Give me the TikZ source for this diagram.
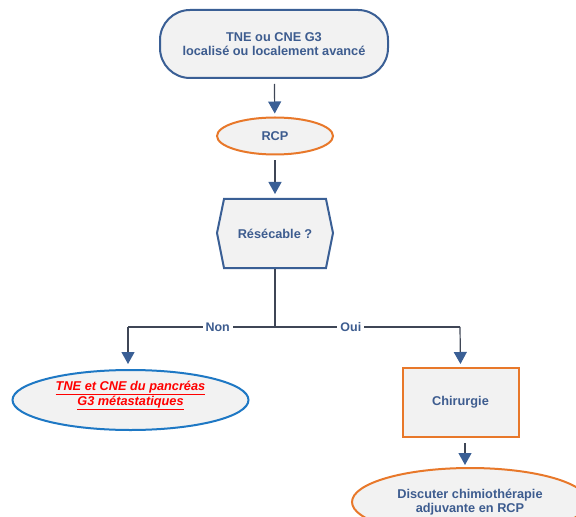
\documentclass[tikz,border=0pt]{standalone}
\usepackage{fontspec}
\setmainfont{Liberation Sans}
\usetikzlibrary{shapes.geometric,arrows.meta,calc}
\definecolor{bl}{HTML}{3A5F95}
\definecolor{tx}{HTML}{3D5C8F}
\definecolor{orr}{HTML}{E8782A}
\definecolor{lb}{HTML}{1E78C4}
\definecolor{fl}{HTML}{F2F2F2}
\definecolor{ln}{HTML}{3F4656}
\begin{document}
\begin{tikzpicture}[x=1bp,y=-1bp,
  box/.style={font=\fontsize{12.8}{14}\selectfont\bfseries, text=tx, align=center, fill=fl, line width=2bp, inner sep=0pt},
  lab/.style={font=\fontsize{12.5}{14}\selectfont\bfseries, text=tx, fill=white, inner sep=3bp},
  conn/.style={draw=ln, line width=1.2bp},
  arr/.style={conn, -{Triangle[color=bl,fill=bl,length=12bp,width=13bp]}}]
\useasboundingbox (0,0) rectangle (576,517);
\clip (0,0) rectangle (576,517);
\node[box, draw=bl, rounded corners=30bp, minimum width=228bp, minimum height=68bp] (top) at (274,44) {TNE ou CNE G3\\localisé ou localement avancé};
\node[box, draw=orr, ellipse, minimum width=116bp, minimum height=37bp] (rcp) at (275,136) {RCP};
\draw[line width=2bp, draw=bl, fill=fl] (224,199) -- (326,199) -- (333,233) -- (326,268) -- (224,268) -- (217,233) -- cycle;
\node[box, fill=none, minimum width=116bp, minimum height=69bp] (hex) at (275,233.5) {Résécable ?};
\node[box, draw=lb, ellipse, minimum width=236bp, minimum height=60bp, text=red, text depth=14bp, font=\fontsize{12.8}{12}\selectfont\bfseries\itshape] (met) at (130.5,400) {\underline{TNE et CNE du pancréas}\\\underline{G3 métastatiques}};
\node[box, draw=orr, minimum width=116bp, minimum height=69bp] (chir) at (460.5,402.5) {Chirurgie};
\node[box, draw=orr, ellipse, minimum width=236bp, minimum height=68bp] (dis) at (470,502) {Discuter chimiothérapie\\adjuvante en RCP};
\coordinate (j) at (275,327);
\coordinate (jl) at (128,327);
\coordinate (jr) at (460,327);
\draw[arr, shorten <=5bp, shorten >=3bp] (top) -- (rcp);
\draw[arr, shorten <=5bp, shorten >=4bp] (rcp) -- (hex);
\draw[conn] (hex.south) -- (j);
\draw[conn] (j) -- node[lab, pos=0.39]{Non} (jl);
\draw[conn] (j) -- node[lab, pos=0.41]{Oui} (jr);
\draw[arr, shorten >=5bp] (jl) -- (jl |- met.north);
\draw[arr, shorten >=3bp] (jr) -- (chir.north);
\draw[arr, shorten <=5bp, shorten >=2bp] ([xshift=4.5bp]chir.south) -- ([xshift=4.5bp]chir.south |- dis.north);
\end{tikzpicture}
\end{document}
